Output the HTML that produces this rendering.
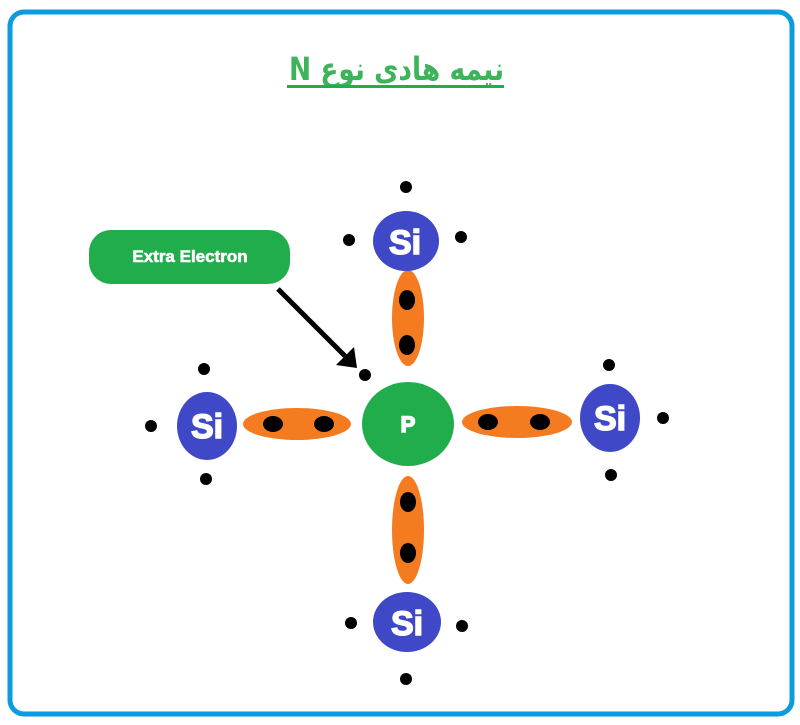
<!DOCTYPE html>
<html><head><meta charset="utf-8"><style>
html,body{margin:0;padding:0;background:#fff;width:800px;height:725px;overflow:hidden}
</style></head><body>
<svg width="800" height="725" viewBox="0 0 800 725" xmlns="http://www.w3.org/2000/svg" font-family="Liberation Sans, DejaVu Sans, sans-serif">
<rect x="10" y="12" width="782" height="702" rx="14" fill="#fff" stroke="#0a9be0" stroke-width="5"/>
<text x="504" y="80" direction="rtl" unicode-bidi="embed" text-anchor="start" font-size="32" font-weight="bold" fill="#3cb55a" font-family="DejaVu Sans, Noto Sans CJK SC, sans-serif" textLength="215" lengthAdjust="spacingAndGlyphs">نیمه هادی نوع N</text>
<rect x="287" y="85" width="217" height="3" fill="#1fae4a"/>
<g fill="#f47b20">
<ellipse cx="408" cy="318" rx="16" ry="48"/>
<ellipse cx="408" cy="530" rx="16" ry="54"/>
<ellipse cx="297" cy="424" rx="54" ry="16"/>
<ellipse cx="517" cy="422" rx="55" ry="16"/>
</g>
<g fill="#000">
<ellipse cx="407" cy="300" rx="8" ry="10"/><ellipse cx="407" cy="345" rx="8" ry="10"/>
<ellipse cx="408" cy="502" rx="8" ry="10"/><ellipse cx="408" cy="553" rx="8" ry="10"/>
<ellipse cx="273" cy="424" rx="10" ry="8"/><ellipse cx="324" cy="424" rx="10" ry="8"/>
<ellipse cx="488" cy="422" rx="10" ry="8"/><ellipse cx="540" cy="422" rx="10" ry="8"/>
<circle cx="406" cy="187" r="6"/><circle cx="349" cy="240" r="6"/><circle cx="461" cy="237" r="6"/>
<circle cx="204" cy="369" r="6"/><circle cx="151" cy="426" r="6"/><circle cx="206" cy="479" r="6"/>
<circle cx="609" cy="365" r="6"/><circle cx="663" cy="418" r="6"/><circle cx="611" cy="475" r="6"/>
<circle cx="351" cy="623" r="6"/><circle cx="462" cy="626" r="6"/><circle cx="406" cy="679" r="6"/>
<circle cx="365" cy="375" r="6"/>
</g>
<g fill="#3f48c6">
<ellipse cx="406" cy="241" rx="33" ry="30"/>
<ellipse cx="207" cy="426" rx="30" ry="34"/>
<ellipse cx="610" cy="418" rx="30" ry="34"/>
<ellipse cx="407" cy="622" rx="34" ry="30"/>
</g>
<ellipse cx="408" cy="424" rx="46" ry="42" fill="#21ad4b"/>
<g fill="#fff" font-weight="bold" text-anchor="middle" stroke="#fff" stroke-width="1.5">
<text x="405" y="254" font-size="34">Si</text>
<text x="207" y="438" font-size="34">Si</text>
<text x="610" y="430" font-size="34">Si</text>
<text x="407" y="635" font-size="34">Si</text>
<text x="408" y="432" font-size="22">P</text>
</g>
<rect x="89" y="230" width="201" height="54" rx="22" fill="#21ad4b"/>
<text x="190" y="262" text-anchor="middle" font-size="17" font-weight="bold" fill="#fff" stroke="#fff" stroke-width="0.6">Extra Electron</text>
<line x1="278" y1="289" x2="345" y2="356" stroke="#000" stroke-width="5"/>
<polygon points="357,368 336,365 354,347" fill="#000"/>
</svg>
</body></html>
